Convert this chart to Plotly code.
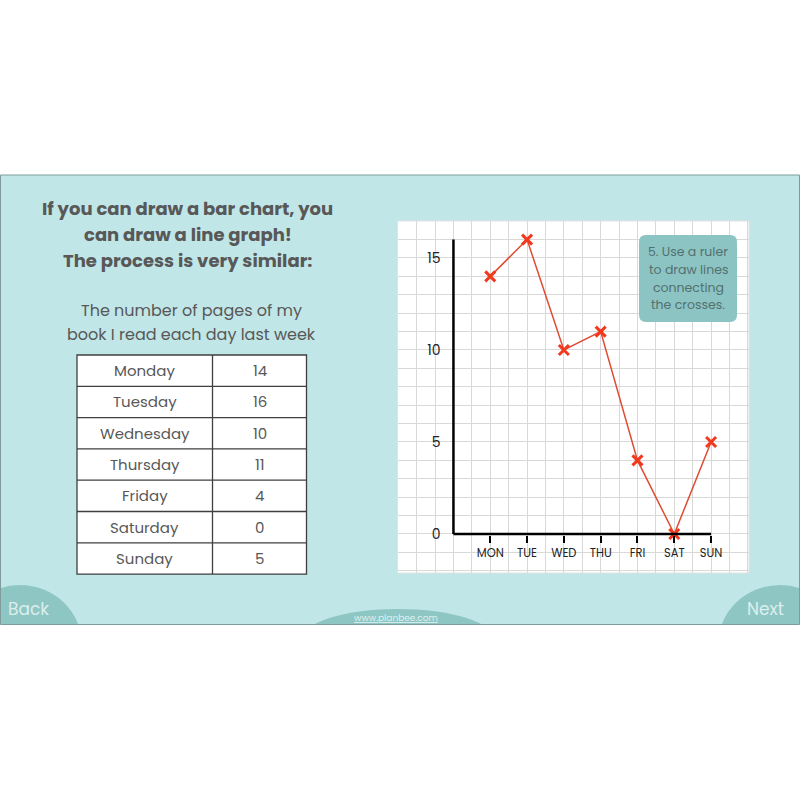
import plotly.graph_objects as go

# ---------------- data ----------------
days_full = ["Monday", "Tuesday", "Wednesday", "Thursday", "Friday", "Saturday", "Sunday"]
days_short = ["MON", "TUE", "WED", "THU", "FRI", "SAT", "SUN"]
pages = [14, 16, 10, 11, 4, 0, 5]
y_ticks = [0, 5, 10, 15]

title_lines = ["If you can draw a bar chart, you", "can draw a line graph!", "The process is very similar:"]
subtitle_lines = ["The number of pages of my", "book I read each day last week"]
note_lines = ["5. Use a ruler", "to draw lines", "connecting", "the crosses."]

# ---------------- helpers ----------------
W = H = 800.0
def px(x):
    return x / W
def py(y):
    return 1 - y / H

FONT = "Poppins, 'Open Sans', sans-serif"
TEAL = "#C0E6E7"
DARK_TEAL = "#8EC6C4"
RED_LINE = "#E04B32"
RED_MARK = "#F2381D"
GRID = "#D8D8D8"
TXT = "#585858"

fig = go.Figure()

xs = list(range(1, len(days_short) + 1))
fig.add_trace(go.Scatter(
    x=xs, y=pages, mode="lines+markers",
    line=dict(color=RED_LINE, width=1.5),
    marker=dict(symbol="x-thin", size=10, color=RED_MARK, line=dict(width=3, color=RED_MARK)),
    hoverinfo="skip", showlegend=False, cliponaxis=False,
))

shapes = []
# slide background
shapes.append(dict(type="rect", xref="paper", yref="paper", x0=px(0), x1=px(800), y0=py(175), y1=py(624.5),
                   fillcolor=TEAL, line=dict(width=0), layer="below"))
# bottom decorative shapes
shapes.append(dict(type="circle", xref="paper", yref="paper", x0=px(-42), x1=px(82), y0=py(585), y1=py(705),
                   fillcolor=DARK_TEAL, line=dict(width=0), layer="below"))
shapes.append(dict(type="circle", xref="paper", yref="paper", x0=px(718), x1=px(842), y0=py(585), y1=py(705),
                   fillcolor=DARK_TEAL, line=dict(width=0), layer="below"))
shapes.append(dict(type="circle", xref="paper", yref="paper", x0=px(301), x1=px(495), y0=py(609), y1=py(671),
                   fillcolor=DARK_TEAL, line=dict(width=0), layer="below"))
# white mask below slide
shapes.append(dict(type="rect", xref="paper", yref="paper", x0=px(-5), x1=px(805), y0=py(624.5), y1=py(805),
                   fillcolor="white", line=dict(width=0), layer="below"))
# slide border
shapes.append(dict(type="rect", xref="paper", yref="paper", x0=px(0.5), x1=px(799.5), y0=py(175), y1=py(624.5),
                   fillcolor="rgba(0,0,0,0)", line=dict(width=1, color="#7E9C9C"), layer="below"))
# white graph panel
shapes.append(dict(type="rect", xref="paper", yref="paper", x0=px(397.5), x1=px(749), y0=py(221), y1=py(573),
                   fillcolor="white", line=dict(width=1, color="#E2E2E2"), layer="below"))

# chart axes (black lines)
shapes.append(dict(type="line", xref="x", yref="y", x0=0, x1=len(days_short), y0=0, y1=0,
                   line=dict(color="black", width=2.5), layer="above"))
shapes.append(dict(type="line", xref="x", yref="y", x0=0, x1=0, y0=0, y1=max(pages),
                   line=dict(color="black", width=2.5), layer="above"))

# note box (rounded)
bx0, bx1, by0, by1, r = 639, 737, 235, 322, 7
path = (f"M {px(bx0+r)} {py(by0)} L {px(bx1-r)} {py(by0)} Q {px(bx1)} {py(by0)} {px(bx1)} {py(by0+r)} "
        f"L {px(bx1)} {py(by1-r)} Q {px(bx1)} {py(by1)} {px(bx1-r)} {py(by1)} "
        f"L {px(bx0+r)} {py(by1)} Q {px(bx0)} {py(by1)} {px(bx0)} {py(by1-r)} "
        f"L {px(bx0)} {py(by0+r)} Q {px(bx0)} {py(by0)} {px(bx0+r)} {py(by0)} Z")
shapes.append(dict(type="path", xref="paper", yref="paper", path=path,
                   fillcolor="#8CC4C3", line=dict(width=0), layer="above"))

# table
t_left, t_mid, t_right, t_top, row_h = 77, 212.5, 306.5, 355, 31.3
n = len(days_full)
t_bot = t_top + n * row_h
shapes.append(dict(type="rect", xref="paper", yref="paper", x0=px(t_left), x1=px(t_right), y0=py(t_top), y1=py(t_bot),
                   fillcolor="white", line=dict(width=1.3, color="#3F3F3F"), layer="below"))
shapes.append(dict(type="line", xref="paper", yref="paper", x0=px(t_mid), x1=px(t_mid), y0=py(t_top), y1=py(t_bot),
                   line=dict(width=1.3, color="#3F3F3F")))
for i in range(1, n):
    yy = t_top + i * row_h
    shapes.append(dict(type="line", xref="paper", yref="paper", x0=px(t_left), x1=px(t_right), y0=py(yy), y1=py(yy),
                       line=dict(width=1.3, color="#3F3F3F")))

annotations = []
def txt(x, y, s, size, color=TXT, bold=False, family=FONT):
    annotations.append(dict(x=px(x), y=py(y), xref="paper", yref="paper", text=(f"<b>{s}</b>" if bold else s),
                            showarrow=False, xanchor="center", yanchor="middle",
                            font=dict(size=size, color=color, family=family)))

for i, s in enumerate(title_lines):
    txt(187.5, 208 + i * 26.5, s, 18, bold=True)
for i, s in enumerate(subtitle_lines):
    txt(191, 311 + i * 24, s, 16)
for i, (d, v) in enumerate(zip(days_full, pages)):
    yc = t_top + (i + 0.5) * row_h
    txt((t_left + t_mid) / 2, yc, d, 15)
    txt((t_mid + t_right) / 2, yc, str(v), 15)
for i, s in enumerate(note_lines):
    txt(688, 251.5 + i * 17.8, s, 12.5, color="#52706F")

txt(28, 609, "Back", 17, color="#DCEFEF")
txt(765, 609, "Next", 17, color="#DCEFEF")
txt(396, 618, "<u>www.planbee.com</u>", 9, color="#DDF0F0")

fig.update_layout(
    width=800, height=800, margin=dict(l=0, r=0, t=0, b=0),
    paper_bgcolor="white", plot_bgcolor="rgba(0,0,0,0)",
    shapes=shapes, annotations=annotations, showlegend=False,
    xaxis=dict(domain=[px(397.5), px(749)], range=[-1.52, 8.03], anchor="free", position=py(535),
               tickmode="array", tickvals=xs, ticktext=days_short,
               ticks="outside", ticklen=7, tickwidth=2, tickcolor="black",
               tickfont=dict(size=11.5, color="#222", family=FONT),
               showgrid=True, gridcolor=GRID, gridwidth=1, zeroline=False, showline=False,
               minor=dict(tick0=0, dtick=0.5, showgrid=True, gridcolor=GRID, gridwidth=1, ticks="")),
    yaxis=dict(domain=[py(573), py(221)], range=[-2.12, 17.01], anchor="free", position=px(453.3),
               tickmode="array", tickvals=y_ticks,
               ticks="outside", ticklen=10, tickcolor="rgba(0,0,0,0)",
               tickfont=dict(size=14, color="#222", family=FONT),
               showgrid=True, gridcolor=GRID, gridwidth=1, zeroline=False, showline=False,
               minor=dict(tick0=0, dtick=1, showgrid=True, gridcolor=GRID, gridwidth=1, ticks="")),
)

fig.write_html("out.html")
